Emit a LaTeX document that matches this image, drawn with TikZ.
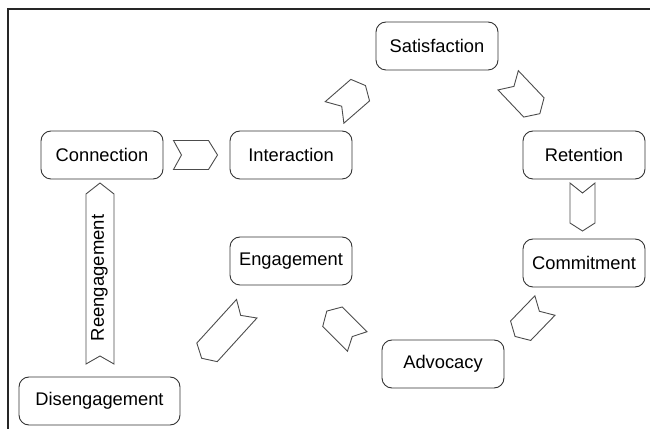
\documentclass[tikz,border=0pt]{standalone}
\usepackage{fontspec}
\setmainfont{Liberation Sans}
\begin{document}
\begin{tikzpicture}[x=1pt,y=1pt,
  stage/.style={draw=black!80, line width=0.9pt, rounded corners=10pt,
    minimum width=122pt, minimum height=48pt, inner sep=0pt,
    font=\fontsize{18.3}{22}\selectfont},
  chev/.style={draw=black!70, line width=0.9pt, line join=miter}]
% chevron: centre x, centre y, angle, length, width, tail notch, head depth
\newcommand{\chevat}[7]{%
  \draw[chev, shift={(#1,#2)}, rotate=#3]
    ({-(#4)/2},{-(#5)/2}) -- ({(#4)/2-(#7)},{-(#5)/2}) -- ({(#4)/2},0)
    -- ({(#4)/2-(#7)},{(#5)/2}) -- ({-(#4)/2},{(#5)/2})
    -- ({-(#4)/2+(#6)},0) -- cycle;}
\useasboundingbox (0,0) rectangle (650,428);
% frame
\draw[black!85, line width=1.2pt] (8,-2) -- (8,419) -- (652,419);
% stages
\node[stage] (sat) at (437,382) {Satisfaction};
\node[stage] (conn) at (102,273) {Connection};
\node[stage] (inter) at (291,273) {Interaction};
\node[stage] (ret) at (584,273) {Retention};
\node[stage] (eng) at (291,167) {Engagement};
\node[stage] (com) at (584,165) {Commitment};
\node[stage] (adv) at (443,64) {Advocacy};
\node[stage, minimum width=161pt] (dis) at (99.5,27) {Disengagement};
% chevrons between the stages
\chevat{195.5}{273}{0}{44}{29}{8}{9}
\chevat{350}{329}{41}{41}{28.5}{9.5}{7}
\chevat{524}{331}{-46.5}{46}{28}{8.4}{8.6}
\chevat{582.5}{221}{-90}{48}{25}{10}{8}
\chevat{530}{107}{-134}{43}{28}{8}{8}
\chevat{342}{101.7}{135}{43}{27.6}{7}{8}
\chevat{224.2}{94.5}{-132.3}{67}{27.6}{9}{8}
% reengagement band from Disengagement back up to Connection
\chevat{100}{154.5}{90}{181}{28}{8}{11}
\node[rotate=90, font=\fontsize{18.5}{22}\selectfont, inner sep=0pt] (reeng) at (99.5,150) {Reengagement};
\end{tikzpicture}
\end{document}
